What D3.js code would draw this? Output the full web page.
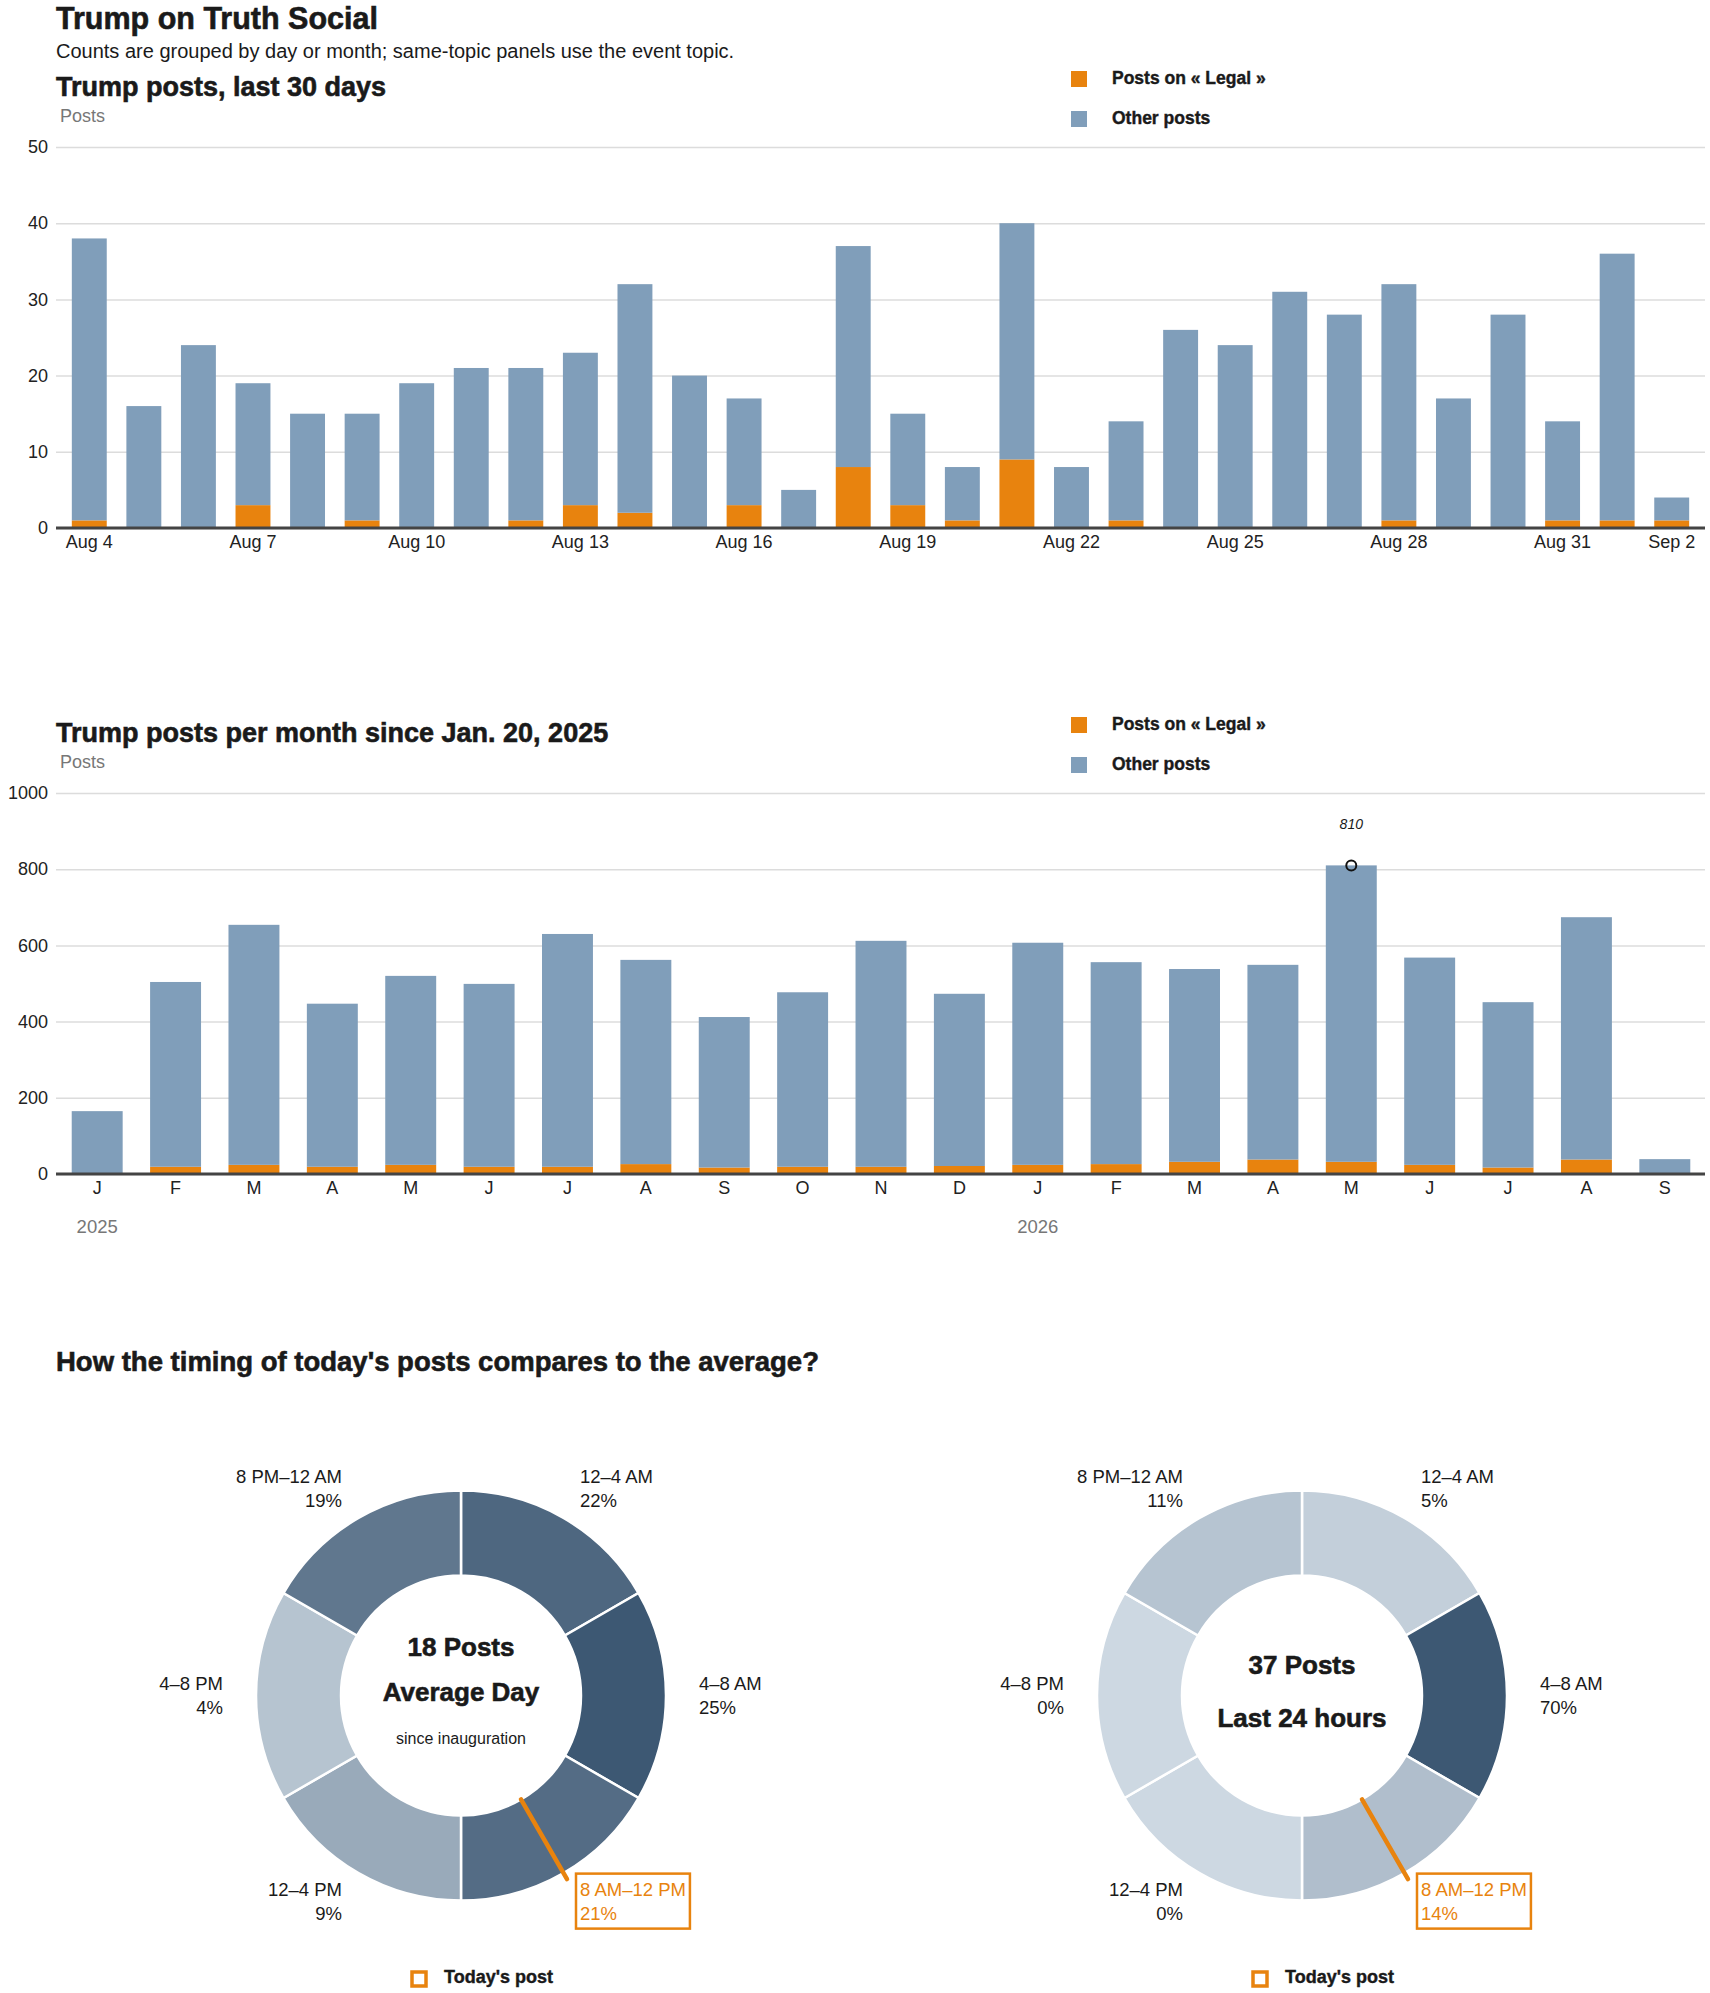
<!DOCTYPE html>
<html>
<head>
<script src="https://cdn.jsdelivr.net/npm/d3@7"></script>
<style>
  html, body { margin: 0; padding: 0; background: #fff; }
  svg { display: block; }
  text { font-family: "Liberation Sans", Arial, sans-serif; fill: #1a1a1a; }
  .heavy { stroke: #1a1a1a; stroke-width: 0.6px; }
</style>
</head>
<body>
<script>
var W = 1710, H = 1993;
var ORANGE = '#e8830e', BLUE = '#809eba';
var PLOT_L = 56, PLOT_R = 1705;

// --- last 30 days
var dayLabels = ["Aug 4","Aug 5","Aug 6","Aug 7","Aug 8","Aug 9","Aug 10","Aug 11","Aug 12","Aug 13",
  "Aug 14","Aug 15","Aug 16","Aug 17","Aug 18","Aug 19","Aug 20","Aug 21","Aug 22","Aug 23",
  "Aug 24","Aug 25","Aug 26","Aug 27","Aug 28","Aug 29","Aug 30","Aug 31","Sep 1","Sep 2"];
var dailyLegal = [1,0,0,3,0,1,0,0,1,3,2,0,3,0,8,3,1,9,0,1,0,0,0,0,1,0,0,1,1,1];
var dailyOther = [37,16,24,16,15,14,19,21,20,20,30,20,14,5,29,12,7,31,8,13,26,24,31,28,31,17,28,13,35,3];
var dailyTicks = ["Aug 4","Aug 7","Aug 10","Aug 13","Aug 16","Aug 19","Aug 22","Aug 25","Aug 28","Aug 31","Sep 2"];
var dailyYTicks = [0,10,20,30,40,50];

// --- per month since inauguration
var months = ["2025-01","2025-02","2025-03","2025-04","2025-05","2025-06","2025-07","2025-08","2025-09","2025-10",
  "2025-11","2025-12","2026-01","2026-02","2026-03","2026-04","2026-05","2026-06","2026-07","2026-08","2026-09"];
var monthlyLegal = [0,19,24,19,24,19,19,26,17,19,19,21,24,26,32,38,32,24,17,38,0];
var monthlyOther = [165,485,630,428,496,480,611,536,395,458,593,452,583,530,506,511,778,544,434,636,39];
var monthlyYTicks = [0,200,400,600,800,1000];

// --- timing of posts
var slots = ["12–4 AM","4–8 AM","8 AM–12 PM","12–4 PM","4–8 PM","8 PM–12 AM"];
var avgShare = [22,25,21,9,4,19];
var lastDayShare = [5,70,14,0,0,11];
var todaySlot = "8 AM–12 PM";
var avgDayPosts = 18, lastDayPosts = 37;

var seriesKeys = ["legal","other"];
var seriesNames = ["Posts on « Legal »","Other posts"];
var seriesColor = d3.scaleOrdinal().domain(seriesKeys).range([ORANGE, BLUE]);

var svg = d3.select('body').append('svg')
  .attr('width', W)
  .attr('height', H);

// header
svg.append('text').attr('class', 'heavy').attr('x', 56).attr('y', 29)
  .attr('font-size', 30.5).attr('font-weight', 'bold')
  .text('Trump on Truth Social');
svg.append('text').attr('x', 56).attr('y', 58)
  .attr('font-size', 20)
  .text('Counts are grouped by day or month; same-topic panels use the event topic.');

function barPanel(cfg) {
  var g = svg.append('g');
  var rows = cfg.cats.map(function(c, i) {
    return { cat: c, legal: cfg.legal[i], other: cfg.other[i] };
  });

  var x = d3.scaleBand().domain(cfg.cats).range(cfg.xRange)
    .paddingInner(cfg.pad).paddingOuter(cfg.pad / 2);
  var y = d3.scaleLinear().domain([0, cfg.yMax]).range([cfg.bottom, cfg.top]);

  g.append('text').attr('class', 'heavy').attr('x', 56).attr('y', cfg.top - 51)
    .attr('font-size', 27).attr('font-weight', 'bold').text(cfg.title);
  g.append('text').attr('x', 60).attr('y', cfg.top - 25)
    .attr('font-size', 18).style('fill', '#777').text('Posts');

  // legend
  var leg = g.selectAll('g.leg').data(seriesKeys).join('g')
    .attr('transform', function(d, i) { return 'translate(1071,' + (cfg.top - 76 + i * 40) + ')'; });
  leg.append('rect').attr('width', 16).attr('height', 16).attr('fill', function(d) { return seriesColor(d); });
  leg.append('text').attr('class', 'heavy').attr('x', 41).attr('y', 12.5)
    .attr('font-size', 17.5).attr('font-weight', 'bold')
    .style('stroke-width', '0.4px')
    .text(function(d, i) { return seriesNames[i]; });

  // grid and y labels
  var yAxis = g.append('g').attr('transform', 'translate(' + PLOT_L + ',0)')
    .call(d3.axisLeft(y).tickValues(cfg.yTicks).tickFormat(d3.format('d'))
      .tickSize(-(PLOT_R - PLOT_L)).tickPadding(8));
  yAxis.select('.domain').remove();
  yAxis.selectAll('.tick line').attr('stroke', '#dcdcdc').attr('stroke-width', 1.5);
  yAxis.selectAll('.tick text').attr('font-size', 18).attr('font-family', null).style('fill', '#222');

  // stacked bars
  var stacked = d3.stack().keys(seriesKeys)(rows);
  g.selectAll('g.layer').data(stacked).join('g')
    .attr('fill', function(d) { return seriesColor(d.key); })
    .selectAll('rect').data(function(d) { return d; }).join('rect')
    .attr('x', function(d) { return x(d.data.cat); })
    .attr('width', x.bandwidth())
    .attr('y', function(d) { return y(d[1]); })
    .attr('height', function(d) { return y(d[0]) - y(d[1]); });

  // baseline
  g.append('line')
    .attr('x1', PLOT_L).attr('x2', PLOT_R)
    .attr('y1', y(0)).attr('y2', y(0))
    .attr('stroke', '#444').attr('stroke-width', 3);

  var xAxis = g.append('g').attr('transform', 'translate(0,' + y(0) + ')')
    .call(d3.axisBottom(x).tickValues(cfg.xTicks).tickFormat(cfg.xFormat).tickSize(0).tickPadding(7));
  xAxis.select('.domain').remove();
  xAxis.selectAll('.tick text').attr('font-size', 18).attr('font-family', null).style('fill', '#222');

  return { g: g, x: x, y: y, rows: rows };
}

// panel 1
barPanel({
  title: 'Trump posts, last 30 days',
  cats: dayLabels, legal: dailyLegal, other: dailyOther,
  xRange: [62, 1699], pad: 0.36,
  top: 147, bottom: 528, yMax: 50, yTicks: dailyYTicks,
  xTicks: dailyTicks, xFormat: function(d) { return d; }
});

// panel 2
var parseMonth = d3.timeParse('%Y-%m');
var fmtMonth = d3.timeFormat('%b');
var p2 = barPanel({
  title: 'Trump posts per month since Jan. 20, 2025',
  cats: months, legal: monthlyLegal, other: monthlyOther,
  xRange: [58, 1704], pad: 0.35,
  top: 793, bottom: 1174, yMax: 1000, yTicks: monthlyYTicks,
  xTicks: months, xFormat: function(d) { return fmtMonth(parseMonth(d)).charAt(0); }
});

// year labels under January
p2.g.selectAll('text.year')
  .data(months.filter(function(m) { return parseMonth(m).getMonth() === 0; }))
  .join('text').attr('class', 'year')
  .attr('x', function(d) { return p2.x(d) + p2.x.bandwidth() / 2; })
  .attr('y', 1233)
  .attr('text-anchor', 'middle').attr('font-size', 18.5).style('fill', '#777')
  .text(function(d) { return d3.timeFormat('%Y')(parseMonth(d)); });

// peak annotation
var peak = p2.rows.reduce(function(a, b) { return (b.legal + b.other) > (a.legal + a.other) ? b : a; });
var peakX = p2.x(peak.cat) + p2.x.bandwidth() / 2;
var peakY = p2.y(peak.legal + peak.other);
p2.g.append('circle').attr('cx', peakX).attr('cy', peakY).attr('r', 5)
  .attr('fill', 'none').attr('stroke', '#111').attr('stroke-width', 2);
p2.g.append('text').attr('x', peakX).attr('y', peakY - 36)
  .attr('text-anchor', 'middle').attr('font-size', 14).attr('font-style', 'italic')
  .text(peak.legal + peak.other);

// timing section
svg.append('text').attr('class', 'heavy').attr('x', 56).attr('y', 1371)
  .attr('font-size', 27.5).attr('font-weight', 'bold')
  .text("How the timing of today's posts compares to the average?");

function donut(cx, cy, shares, centerLines) {
  var g = svg.append('g').attr('transform', 'translate(' + cx + ',' + cy + ')');
  var rows = slots.map(function(s, i) { return { slot: s, share: shares[i] }; });
  var pie = d3.pie().sort(null).value(function() { return 1; });
  var arcs = pie(rows);
  var arc = d3.arc().innerRadius(120).outerRadius(205);
  var labelArc = d3.arc().innerRadius(238).outerRadius(238);
  var color = d3.scaleLinear().domain([0, d3.max(shares)]).range(['#cdd8e2', '#3d5873']);

  g.selectAll('path.slice').data(arcs).join('path')
    .attr('class', 'slice')
    .attr('d', arc)
    .attr('fill', function(d) { return color(d.data.share); })
    .attr('stroke', '#fff').attr('stroke-width', 2.5);

  var labels = g.selectAll('text.lbl').data(arcs).join('text')
    .attr('class', 'lbl')
    .attr('font-size', 18.5)
    .attr('text-anchor', function(d) { return labelArc.centroid(d)[0] > 0 ? 'start' : 'end'; })
    .style('fill', function(d) { return d.data.slot === todaySlot ? ORANGE : '#1a1a1a'; });
  labels.append('tspan')
    .attr('x', function(d) { return labelArc.centroid(d)[0]; })
    .attr('y', function(d) { return labelArc.centroid(d)[1] - 6; })
    .text(function(d) { return d.data.slot; });
  labels.append('tspan')
    .attr('x', function(d) { return labelArc.centroid(d)[0]; })
    .attr('y', function(d) { return labelArc.centroid(d)[1] + 18; })
    .text(function(d) { return d.data.share + '%'; });

  // today's post marker
  var today = arcs.filter(function(d) { return d.data.slot === todaySlot; })[0];
  var a = (today.startAngle + today.endAngle) / 2;
  g.append('line')
    .attr('x1', 120 * Math.sin(a)).attr('y1', -120 * Math.cos(a))
    .attr('x2', 212 * Math.sin(a)).attr('y2', -212 * Math.cos(a))
    .attr('stroke', ORANGE).attr('stroke-width', 4.5).attr('stroke-linecap', 'round');
  labels.filter(function(d) { return d.data.slot === todaySlot; }).each(function() {
    var b = this.getBBox();
    g.append('rect')
      .attr('x', b.x - 4).attr('y', b.y - 5)
      .attr('width', b.width + 8).attr('height', b.height + 10)
      .attr('fill', 'none').attr('stroke', ORANGE).attr('stroke-width', 2.5);
  });

  // center text
  centerLines.forEach(function(l) {
    g.append('text').attr('class', l.bold ? 'heavy' : null)
      .attr('y', l.dy).attr('text-anchor', 'middle')
      .attr('font-size', l.size).attr('font-weight', l.bold ? 'bold' : 'normal')
      .text(l.text);
  });

  // legend
  g.append('rect').attr('x', -49).attr('y', 1972 - cy).attr('width', 14).attr('height', 14)
    .attr('fill', 'none').attr('stroke', ORANGE).attr('stroke-width', 3.5);
  g.append('text').attr('class', 'heavy').attr('x', -17).attr('y', 1983 - cy)
    .attr('font-size', 18).attr('font-weight', 'bold').style('stroke-width', '0.4px')
    .text("Today's post");
}

donut(461, 1695.5, avgShare, [
  { text: avgDayPosts + ' Posts', dy: -40, size: 26, bold: true },
  { text: 'Average Day', dy: 5, size: 26, bold: true },
  { text: 'since inauguration', dy: 48, size: 16, bold: false }
]);
donut(1302, 1695.5, lastDayShare, [
  { text: lastDayPosts + ' Posts', dy: -21.5, size: 26, bold: true },
  { text: 'Last 24 hours', dy: 31, size: 26, bold: true }
]);
</script>
</body>
</html>
